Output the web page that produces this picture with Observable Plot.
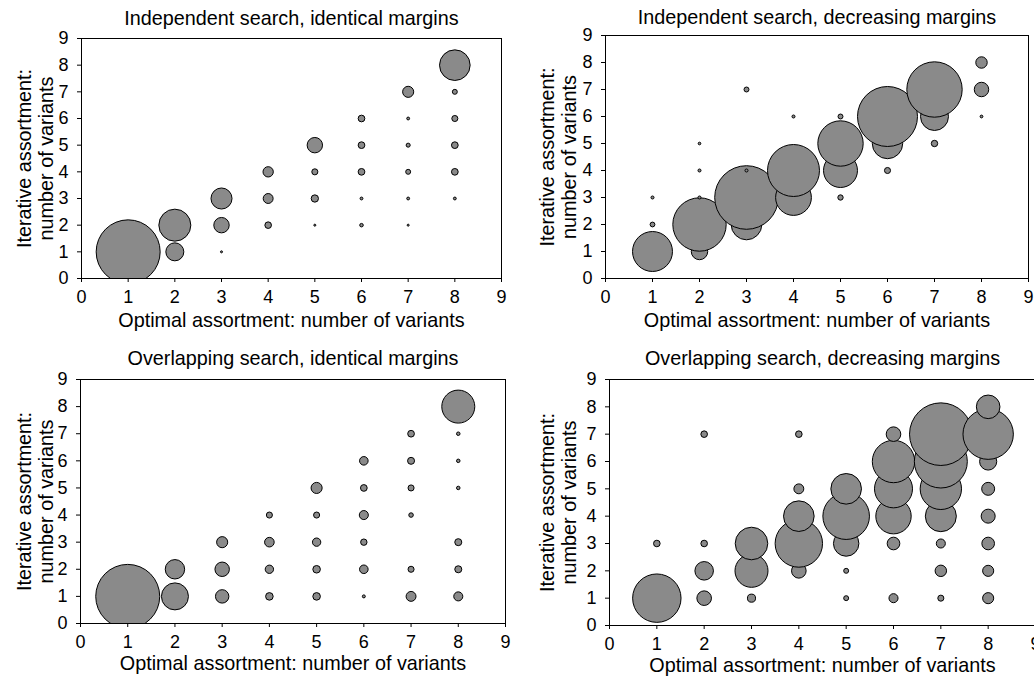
<!DOCTYPE html>
<html>
<head>
<meta charset="utf-8">
<script src="https://cdn.jsdelivr.net/npm/d3@7"></script>
<script src="https://cdn.jsdelivr.net/npm/@observablehq/plot@0.6"></script>
<style>
  html, body { margin: 0; padding: 0; background: #fff; overflow: hidden; }
  #wrap { position: relative; width: 1034px; height: 677px; overflow: hidden; background: #fff; }
  .panel { position: absolute; }
  .panel svg { max-width: none !important; display: block; }
</style>
</head>
<body>
<div id="wrap"></div>
<script>
// [optimal assortment, iterative assortment, share of cases (bubble area, % of panel maximum)]
const indepIdentical = [
  [1,1,100],[2,1,7.9],[2,2,25],[3,1,0.1],[3,2,5.8],[3,3,10.8],
  [4,2,1.06],[4,3,2.4],[4,4,2.6],[5,2,0.1],[5,3,1.3],[5,4,0.9],[5,5,5.8],
  [6,2,0.3],[6,3,0.2],[6,4,1.1],[6,5,1.1],[6,6,1.1],
  [7,2,0.1],[7,3,0.2],[7,4,0.6],[7,5,0.4],[7,6,0.2],[7,7,3.0],
  [8,3,0.2],[8,4,1.1],[8,5,1.1],[8,6,0.9],[8,7,0.6],[8,8,22.9]
];
const indepDecreasing = [
  [1,1,39],[1,2,0.56],[1,3,0.22],[2,1,6.6],[2,2,69.6],[2,3,0.22],[2,4,0.22],[2,5,0.17],
  [3,2,22.9],[3,3,98.8],[3,4,0.22],[3,7,0.6],[4,3,31.3],[4,4,66],[4,6,0.22],
  [5,3,0.7],[5,4,28.2],[5,5,50.3],[5,6,0.6],[6,4,0.9],[6,5,22.6],[6,6,87.9],
  [7,5,1.0],[7,6,19.1],[7,7,74.9],[8,6,0.19],[8,7,5.1],[8,8,3.2]
];
const overlapIdentical = [
  [1,1,100],[2,1,17.8],[2,2,9.2],[3,1,4.4],[3,2,5.1],[3,3,3.0],
  [4,1,1.4],[4,2,1.7],[4,3,2.25],[4,4,0.9],[5,1,1.4],[5,2,1.4],[5,3,1.7],[5,4,0.9],[5,5,3.0],
  [6,1,0.22],[6,2,1.8],[6,3,1.0],[6,4,2.0],[6,5,1.1],[6,6,1.8],
  [7,1,2.4],[7,2,0.9],[7,4,0.5],[7,5,0.9],[7,6,1.2],[7,7,1.1],
  [8,1,2.0],[8,2,1.2],[8,3,1.2],[8,5,0.3],[8,6,0.3],[8,7,0.3],[8,8,26.6]
];
const overlapDecreasing = [
  [1,1,57.2],[1,3,1.06],[2,1,5.2],[2,2,8.4],[2,3,1.06],[2,7,1.06],
  [3,1,1.6],[3,2,26.6],[3,3,25.9],[4,2,5.2],[4,3,54.9],[4,4,22.9],[4,5,2.4],[4,7,1.06],
  [5,1,0.6],[5,2,0.6],[5,3,15.8],[5,4,53],[5,5,22.9],
  [6,1,2.0],[6,3,3.9],[6,4,30.6],[6,5,35.3],[6,6,43.9],[6,7,5.2],
  [7,1,0.9],[7,2,3.2],[7,3,2.0],[7,4,23.5],[7,5,41.8],[7,6,68.6],[7,7,95.7],
  [8,1,3.0],[8,2,3.0],[8,3,3.9],[8,4,4.8],[8,5,4.1],[8,6,7.2],[8,7,62],[8,8,13.6]
];
const panelTitles = [
  "Independent search, identical margins",
  "Independent search, decreasing margins",
  "Overlapping search, identical margins",
  "Overlapping search, decreasing margins"
];
const xLabel = "Optimal assortment: number of variants";
const yLabel = "Iterative assortment:\nnumber of variants";
const axisTicks = [0,1,2,3,4,5,6,7,8,9];

const FONT = "'Liberation Sans', Arial, Helvetica, sans-serif";
const LABEL_SIZE = 19.8;

function panel(data, title, o) {
  return Plot.plot({
    width: o.width, height: o.height,
    marginLeft: o.ml, marginRight: o.mr, marginTop: o.mt, marginBottom: o.mb,
    x: {domain: [0, 9]},
    y: {domain: [0, 9]},
    r: {type: "sqrt", domain: [0, 100], range: [0, 32]},
    style: {fontFamily: FONT, fontSize: "18px", color: "black", background: "transparent", overflow: "visible"},
    marks: [
      Plot.dot(data, {x: d => d[0], y: d => d[1], r: d => d[2], fill: "#8a8a8a", stroke: "black", strokeWidth: 1, sort: null, clip: true}),
      Plot.frame({stroke: "black", strokeWidth: 1}),
      Plot.axisX({ticks: axisTicks, tickSize: 4, tickPadding: 8, tickFormat: d => String(d), label: null, fontSize: 18}),
      Plot.axisY({ticks: axisTicks, tickSize: 4, tickPadding: 9, tickFormat: d => String(d), label: null, fontSize: 18}),
      Plot.text([title], {frameAnchor: "top", lineAnchor: "middle", textAnchor: "middle", dy: o.titleDy, fontSize: LABEL_SIZE}),
      Plot.text([xLabel], {frameAnchor: "bottom", lineAnchor: "middle", textAnchor: "middle", dy: o.xlDy, fontSize: LABEL_SIZE}),
      Plot.text([yLabel], {frameAnchor: "left", lineAnchor: "middle", textAnchor: "middle", rotate: -90, dx: o.ylDx, fontSize: LABEL_SIZE, lineHeight: 1.12})
    ]
  });
}

const layouts = [
  {data: indepIdentical, left: 0, top: 0, width: 517, height: 330, ml: 81, mr: 16, mt: 38, mb: 52, titleDy: -20, xlDy: 42, ylDx: -47},
  {data: indepDecreasing, left: 517, top: 0, width: 517, height: 330, ml: 88, mr: 6, mt: 35, mb: 52, titleDy: -17.5, xlDy: 42, ylDx: -47.5},
  {data: overlapIdentical, left: 0, top: 330, width: 517, height: 347, ml: 80, mr: 12, mt: 49, mb: 54, titleDy: -21, xlDy: 40, ylDx: -45.5},
  {data: overlapDecreasing, left: 517, top: 330, width: 528, height: 347, ml: 92, mr: 10, mt: 49, mb: 52, titleDy: -21, xlDy: 40, ylDx: -51.5}
];

const wrap = document.getElementById("wrap");
layouts.forEach((o, i) => {
  const div = document.createElement("div");
  div.className = "panel";
  div.style.left = o.left + "px";
  div.style.top = o.top + "px";
  div.style.width = o.width + "px";
  div.style.height = o.height + "px";
  div.appendChild(panel(o.data, panelTitles[i], o));
  wrap.appendChild(div);
});
</script>
</body>
</html>
